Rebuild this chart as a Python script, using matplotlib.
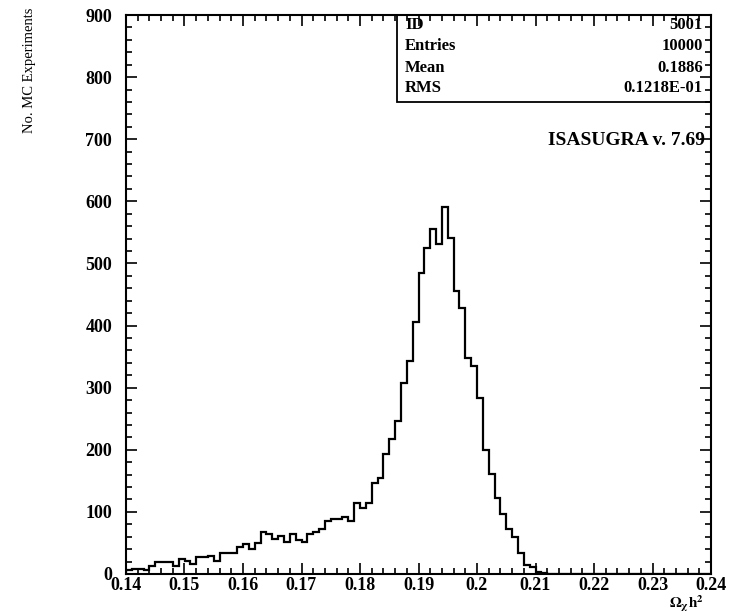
import numpy as np
import matplotlib
matplotlib.use("Agg")
import matplotlib.pyplot as plt
from matplotlib.patches import Rectangle
from matplotlib.ticker import MultipleLocator

plt.rcParams['font.family'] = ['Liberation Serif', 'DejaVu Serif']
plt.rcParams['mathtext.fontset'] = 'stix'

# histogram: 100 bins of width 0.001 from 0.14 to 0.24
x_lo = 0.14
x_hi = 0.24
n_bins = 100
counts = [6, 8, 8, 6, 13, 20, 20, 20, 13, 24,
          21, 16, 27, 27, 29, 21, 34, 34, 34, 43,
          48, 40, 50, 68, 64, 57, 61, 52, 64, 54,
          52, 64, 67, 72, 86, 88, 89, 91, 86, 114,
          106, 114, 146, 155, 193, 217, 247, 307, 343, 405,
          485, 525, 555, 531, 591, 541, 456, 428, 347, 335,
          283, 199, 161, 123, 97, 72, 59, 34, 14, 11,
          4, 1, 0, 0, 0, 0, 0, 0, 0, 0,
          0, 0, 0, 0, 0, 0, 0, 0, 0, 0,
          0, 0, 0, 0, 0, 0, 0, 0, 0, 0]

stat_names = ['ID', 'Entries', 'Mean', 'RMS']
stat_values = ['5001', '10000', '0.1886', '0.1218E-01']

xticks = [0.14, 0.15, 0.16, 0.17, 0.18, 0.19, 0.2, 0.21, 0.22, 0.23, 0.24]
xticklabels = ['0.14', '0.15', '0.16', '0.17', '0.18', '0.19', '0.2', '0.21', '0.22', '0.23', '0.24']
yticks = [0, 100, 200, 300, 400, 500, 600, 700, 800, 900]

edges = np.linspace(x_lo, x_hi, n_bins + 1)

fig = plt.figure(figsize=(7.44, 6.16), dpi=100)
ax = fig.add_axes([126 / 744, 42 / 616, 585 / 744, 559 / 616])

ax.stairs(counts, edges, color='black', lw=1.6)

ax.set_xlim(x_lo, x_hi)
ax.set_ylim(0, 900)
ax.set_xticks(xticks)
ax.set_xticklabels(xticklabels)
ax.set_yticks(yticks)
ax.xaxis.set_minor_locator(MultipleLocator(0.002))
ax.yaxis.set_minor_locator(MultipleLocator(20))
ax.tick_params(which='both', direction='in', top=True, right=True, width=1.2)
ax.tick_params(which='major', length=8, labelsize=13)
ax.tick_params(which='minor', length=4.5)
ax.tick_params(axis='y', pad=10)
ax.tick_params(axis='x', pad=2)
for lab in ax.get_xticklabels() + ax.get_yticklabels():
    lab.set_fontweight('bold')
for sp in ax.spines.values():
    sp.set_linewidth(1.5)

# stats box
ax.add_patch(Rectangle((0.463, 0.845), 0.537, 0.155, transform=ax.transAxes,
                       fill=False, lw=1.3, color='black'))
row_y = [0.982, 0.944, 0.905, 0.869]
for name, val, yy in zip(stat_names, stat_values, row_y):
    ax.text(0.477, yy, name, transform=ax.transAxes, ha='left', va='center',
            fontsize=12, fontweight='bold')
    ax.text(0.986, yy, val, transform=ax.transAxes, ha='right', va='center',
            fontsize=12, fontweight='bold')

ax.text(0.99, 0.776, 'ISASUGRA v. 7.69', transform=ax.transAxes, ha='right',
        va='center', fontsize=14, fontweight='bold')

fig.text(30 / 744, 1 - 70 / 616, 'No. MC Experiments', rotation=90,
         ha='center', va='center', fontsize=10.5)
fig.text(686 / 744, 1 - 604 / 616, r'$\mathbf{\Omega_{\chi} h^{2}}$',
         ha='center', va='center', fontsize=11)

fig.savefig('out.png', dpi=100)
